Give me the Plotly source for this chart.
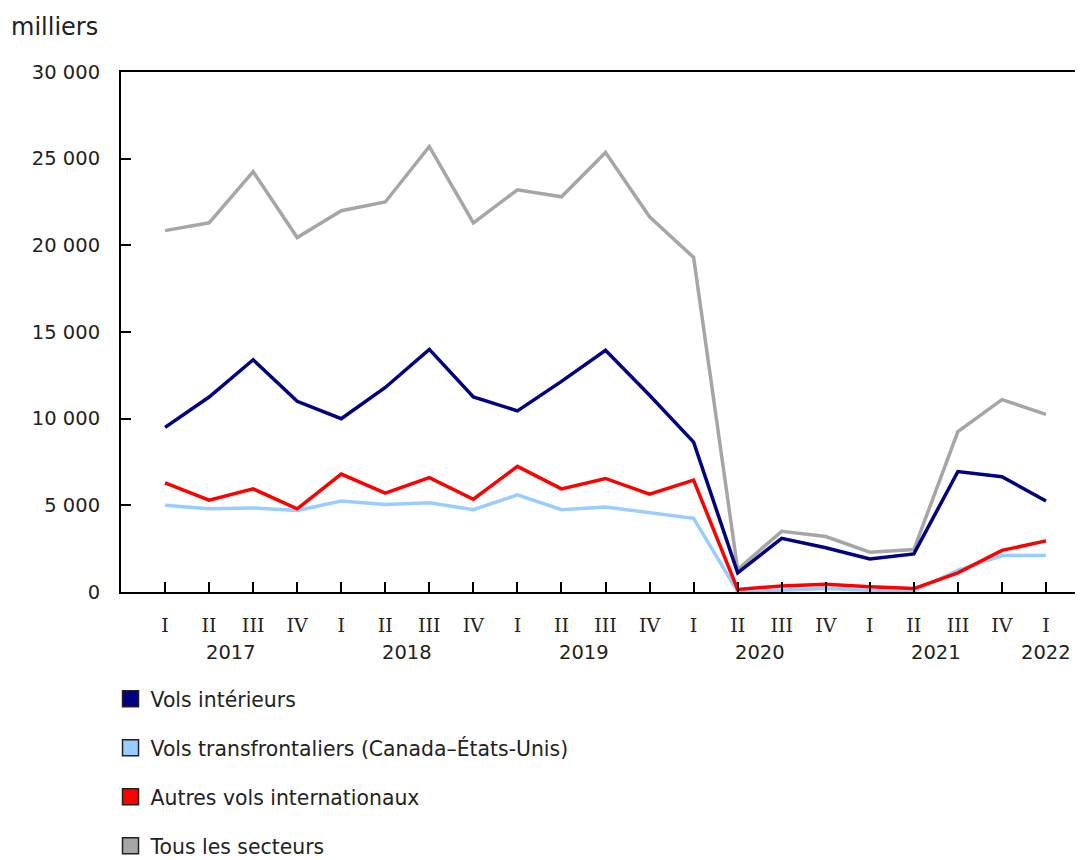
import plotly.graph_objects as go

# ---- data (thousands of passengers) ----
quarters = ["I", "II", "III", "IV", "I", "II", "III", "IV", "I", "II", "III", "IV",
            "I", "II", "III", "IV", "I", "II", "III", "IV", "I"]
period_years = ["2017", "2017", "2017", "2017", "2018", "2018", "2018", "2018",
                "2019", "2019", "2019", "2019", "2020", "2020", "2020", "2020",
                "2021", "2021", "2021", "2021", "2022"]

vols_interieurs = [9500, 11250, 13400, 11000, 10000, 11800, 14000, 11250, 10450, 12150,
                   13950, 11350, 8650, 1100, 3100, 2550, 1900, 2200, 6950, 6650, 5250]
vols_transfrontaliers = [5000, 4800, 4850, 4700, 5250, 5050, 5150, 4750, 5600, 4750,
                         4900, 4600, 4250, 20, 100, 200, 100, 50, 1250, 2100, 2100]
autres_internationaux = [6300, 5300, 5950, 4800, 6800, 5700, 6600, 5350, 7250, 5950,
                         6550, 5650, 6450, 150, 350, 450, 300, 200, 1100, 2400, 2950]
tous_secteurs = [20850, 21300, 24250, 20450, 22000, 22500, 25700, 21300, 23200, 22800,
                 25350, 21650, 19300, 1300, 3500, 3200, 2300, 2450, 9250, 11100, 10250]

series_names = ["Vols intérieurs", "Vols transfrontaliers (Canada–États-Unis)",
                "Autres vols internationaux", "Tous les secteurs"]
series_colors = ["#000080", "#99ccff", "#ff0000", "#a6a6a6"]
series_values = [vols_interieurs, vols_transfrontaliers, autres_internationaux, tous_secteurs]

x_idx = list(range(len(quarters)))

fig = go.Figure()

# draw lines: gray first, then others on top
draw_order = [3, 0, 1, 2]
for i in draw_order:
    fig.add_trace(go.Scatter(
        x=x_idx, y=series_values[i], mode="lines", name=series_names[i],
        line=dict(color=series_colors[i], width=3.5),
        showlegend=False, hoverinfo="x+y+name"))

# legend entries (square swatches)
for i in range(4):
    fig.add_trace(go.Scatter(
        x=[None], y=[None], mode="markers", name=series_names[i],
        marker=dict(symbol="square", size=16, color=series_colors[i],
                    line=dict(color="#222222", width=1.5)),
        legendgroup=f"g{i}", showlegend=True))

# year labels centred under their quarters
years_unique = []
for y in period_years:
    if y not in years_unique:
        years_unique.append(y)
annotations = []
for yr in years_unique:
    idxs = [k for k, v in enumerate(period_years) if v == yr]
    annotations.append(dict(
        x=(idxs[0] + idxs[-1]) / 2, y=-0.117, xref="x", yref="paper",
        text=yr, showarrow=False, xanchor="center", yanchor="middle",
        font=dict(family="DejaVu Sans", size=19.5, color="#222222")))

annotations.append(dict(
    x=-0.1164, y=1.0862, xref="paper", yref="paper", text="milliers",
    showarrow=False, xanchor="left", yanchor="middle",
    font=dict(family="DejaVu Sans", size=24, color="#222222")))

fig.update_layout(
    width=1075, height=852,
    margin=dict(l=113, r=0, t=64, b=268, pad=0, autoexpand=False),
    plot_bgcolor="white", paper_bgcolor="white",
    separators=", ",
    font=dict(family="DejaVu Sans", size=19.5, color="#222222"),
    annotations=annotations,
    legend=dict(
        x=-0.0109, y=-0.1674, xanchor="left", yanchor="top",
        orientation="v", tracegroupgap=19.5,
        font=dict(family="DejaVu Sans", size=20.4, color="#222222"),
        bgcolor="rgba(0,0,0,0)", borderwidth=0),
    xaxis=dict(
        range=[-1, 20.84], tickmode="array", tickvals=x_idx, ticktext=quarters,
        ticks="inside", ticklen=10, tickwidth=2, tickcolor="black",
        showline=True, linecolor="black", linewidth=2, mirror=True,
        showgrid=False, zeroline=False, ticklabelstandoff=15,
        tickfont=dict(family="DejaVu Serif", size=19, color="#222222")),
    yaxis=dict(
        range=[0, 30000], dtick=5000, tick0=0, tickformat=",d",
        ticks="inside", ticklen=10, tickwidth=2, tickcolor="black",
        showline=True, linecolor="black", linewidth=2,
        showgrid=False, zeroline=False, ticklabelstandoff=15,
        tickfont=dict(family="DejaVu Sans", size=19.5, color="#222222")),
)

fig.write_html("out.html")
